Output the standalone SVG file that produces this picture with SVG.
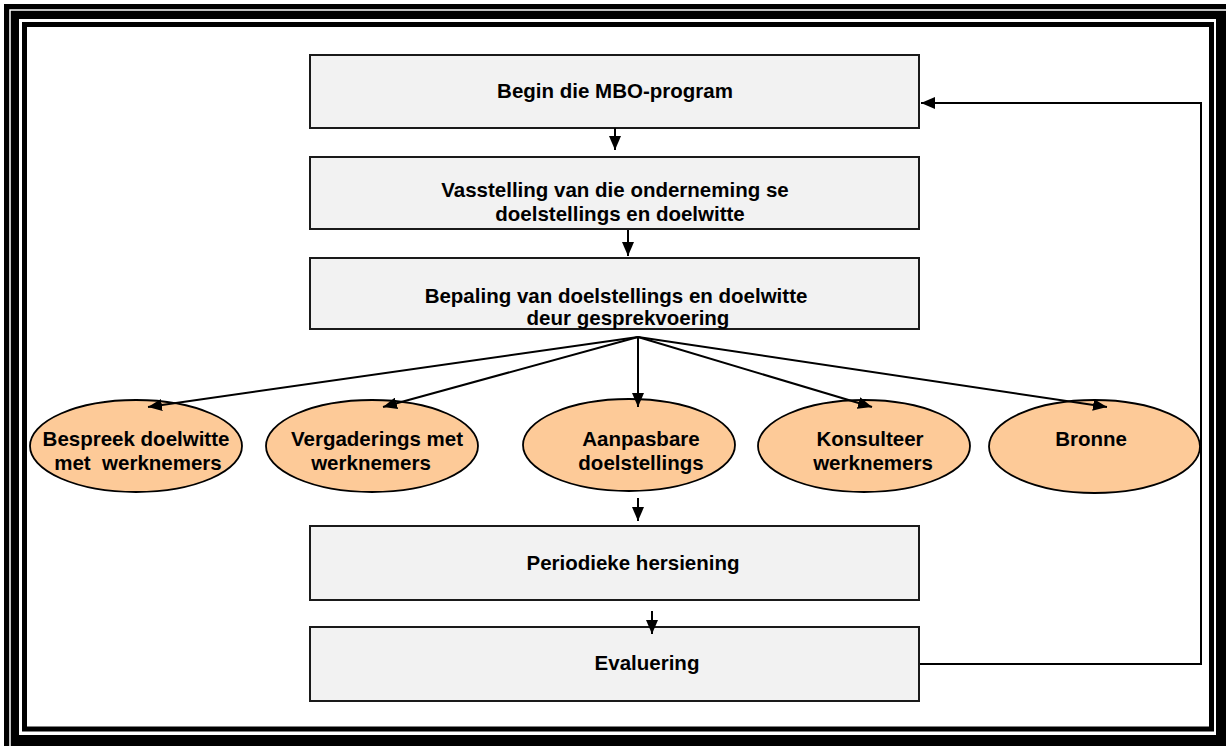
<svg xmlns="http://www.w3.org/2000/svg" width="1226" height="747" viewBox="0 0 1226 747">
  <style>
    .box { fill: #f2f2f2; stroke: #1a1a1a; stroke-width: 2; }
    .ell { fill: #fdca98; stroke: #000; stroke-width: 1.8; }
    .t { font-family: "Liberation Sans", Arial, sans-serif; font-weight: bold; font-size: 20.5px; fill: #000; text-anchor: middle; }
    .con { fill: none; stroke: #000; stroke-width: 2; }
  </style>
  <defs>
    <marker id="ah" viewBox="0 0 14 12" refX="14" refY="6" markerWidth="14" markerHeight="12" markerUnits="userSpaceOnUse" orient="auto">
      <path d="M0,0 L14,6 L0,12 Z" fill="#000"/>
    </marker>
  </defs>
  <rect width="1226" height="747" fill="#fff"/>
  <g id="frame">
    <path d="M4,4 H1226 V746 H4 Z M19,19 V735 H1216 V19 Z" fill="#000" fill-rule="evenodd"/>
    <path d="M10,746 V10 H1226" fill="none" stroke="#fff" stroke-width="1.5"/>
    <rect x="24.5" y="24.5" width="1187" height="704.5" fill="none" stroke="#000" stroke-width="5"/>
  </g>
  <g id="n1">
    <rect class="box" x="310" y="55" width="609" height="73"/>
    <text class="t" x="615" y="98">Begin die MBO-program</text>
  </g>
  <g id="n2">
    <rect class="box" x="310" y="157" width="609" height="72"/>
    <text class="t" x="615" y="197">Vasstelling van die onderneming se</text>
    <text class="t" x="620" y="221">doelstellings en doelwitte</text>
  </g>
  <g id="n3">
    <rect class="box" x="310" y="258" width="609" height="71"/>
    <text class="t" x="616" y="303">Bepaling van doelstellings en doelwitte</text>
    <text class="t" x="628" y="325">deur gesprekvoering</text>
  </g>
  <g id="e1">
    <ellipse class="ell" cx="136" cy="446" rx="106" ry="46"/>
    <text class="t" x="136" y="446">Bespreek doelwitte</text>
    <text class="t" x="138" y="470" xml:space="preserve">met  werknemers</text>
  </g>
  <g id="e2">
    <ellipse class="ell" cx="372" cy="446" rx="106" ry="46"/>
    <text class="t" x="377" y="446">Vergaderings met</text>
    <text class="t" x="371" y="470">werknemers</text>
  </g>
  <g id="e3">
    <ellipse class="ell" cx="629" cy="445" rx="106" ry="46"/>
    <text class="t" x="641" y="446">Aanpasbare</text>
    <text class="t" x="641" y="470">doelstellings</text>
  </g>
  <g id="e4">
    <ellipse class="ell" cx="864" cy="446" rx="106" ry="46"/>
    <text class="t" x="870" y="446">Konsulteer</text>
    <text class="t" x="873" y="470">werknemers</text>
  </g>
  <g id="e5">
    <ellipse class="ell" cx="1094.5" cy="446.5" rx="105.5" ry="46.5"/>
    <text class="t" x="1091" y="446">Bronne</text>
  </g>
  <g id="n4">
    <rect class="box" x="310" y="526" width="609" height="74"/>
    <text class="t" x="633" y="570">Periodieke hersiening</text>
  </g>
  <g id="n5">
    <rect class="box" x="310" y="627" width="609" height="74"/>
    <text class="t" x="647" y="670">Evaluering</text>
  </g>
  <g id="connectors">
    <line class="con" x1="615" y1="128" x2="615" y2="150" marker-end="url(#ah)"/>
    <line class="con" x1="628" y1="230" x2="628" y2="256" marker-end="url(#ah)"/>
    <line class="con" x1="638" y1="337" x2="148" y2="407" marker-end="url(#ah)"/>
    <line class="con" x1="638" y1="337" x2="383" y2="407" marker-end="url(#ah)"/>
    <line class="con" x1="638" y1="337" x2="638" y2="407" marker-end="url(#ah)"/>
    <line class="con" x1="638" y1="337" x2="872" y2="407" marker-end="url(#ah)"/>
    <line class="con" x1="638" y1="337" x2="1107" y2="407" marker-end="url(#ah)"/>
    <line class="con" x1="638" y1="498" x2="638" y2="521" marker-end="url(#ah)"/>
    <line class="con" x1="652" y1="611" x2="652" y2="634" marker-end="url(#ah)"/>
    <polyline class="con" points="920,664 1201,664 1201,103 921,103" marker-end="url(#ah)"/>
  </g>
</svg>
